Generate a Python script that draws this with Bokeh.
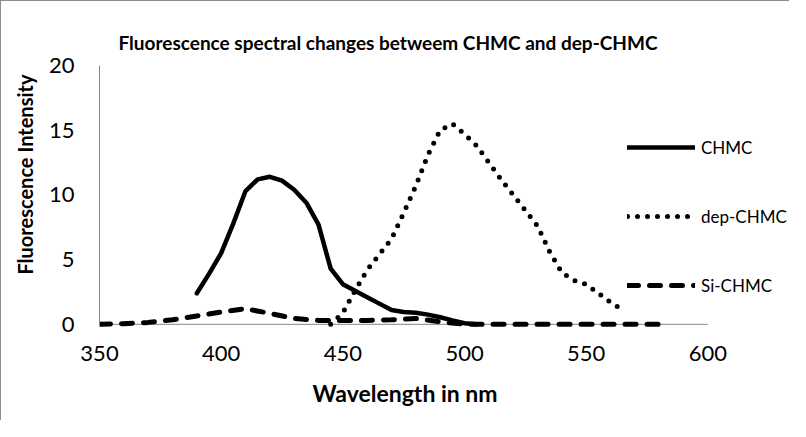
from bokeh.plotting import figure
from bokeh.models import Range1d, Legend, LegendItem, Title
from bokeh.embed import file_html
from bokeh.resources import INLINE

# ---------------- data ----------------
wl_chmc = [390, 395, 400, 405, 410, 415, 420, 425, 430, 435, 440, 445, 450, 455,
           460, 465, 470, 475, 480, 485, 490, 495, 500, 505]
chmc = [2.4, 3.9, 5.5, 7.8, 10.3, 11.2, 11.4, 11.1, 10.4, 9.4, 7.7, 4.3, 3.1, 2.6,
        2.1, 1.6, 1.1, 0.95, 0.9, 0.75, 0.55, 0.3, 0.08, 0.0]

wl_dep = [445, 450, 455, 460, 465, 470, 475, 480, 485, 490, 495, 500, 505, 510,
          515, 520, 525, 530, 535, 540, 545, 550, 555, 560, 565]
dep = [0.0, 0.9, 2.6, 4.2, 5.4, 6.6, 8.6, 10.7, 13.1, 15.0, 15.5, 14.7, 13.8, 12.5,
       11.2, 10.0, 8.8, 7.6, 5.6, 4.0, 3.4, 3.1, 2.4, 1.7, 1.1]

wl_si = [350, 360, 370, 380, 390, 400, 410, 420, 430, 440, 450, 460, 470, 480,
         490, 500, 510, 520, 530, 540, 550, 560, 570, 580]
si = [0.0, 0.05, 0.15, 0.35, 0.65, 0.95, 1.2, 0.85, 0.45, 0.3, 0.3, 0.3, 0.35, 0.45,
      0.2, 0.0, 0.0, 0.0, 0.0, 0.0, 0.0, 0.0, 0.0, 0.0]

x_ticks = [350, 400, 450, 500, 550, 600]
y_ticks = [0, 5, 10, 15, 20]

title_text = "Fluorescence spectral changes betweem CHMC and dep-CHMC"
x_label = "Wavelength in nm"
y_label = "Fluorescence Intensity"

FONT = "Lato"
AXIS_GREY = "#868686"

# ---------------- figure ----------------
# 350..600 spans 611 px; the frame continues to the right to hold the legend
x_end = 350 + 694 * 250 / 611
p = figure(width=789, height=420, output_backend="svg", toolbar_location=None,
           x_range=Range1d(350, x_end), y_range=Range1d(-0.4, 20),
           min_border_left=95, min_border_right=0, min_border_top=64,
           min_border_bottom=92)
p.styles = {"border-top": "1px solid #8c8c8c", "border-left": "1px solid #8c8c8c"}
p.outline_line_color = None
p.grid.visible = False
p.background_fill_color = "white"
p.border_fill_color = "white"

p.title.text = title_text
p.title.align = "left"
p.title.offset = 19
p.title.text_font = FONT
p.title.text_font_style = "bold"
p.title.text_font_size = "19px"
p.title.text_color = "black"
p.title.standoff = 24

for ax in (p.xaxis[0], p.yaxis[0]):
    ax.major_tick_line_color = None
    ax.minor_tick_line_color = None
    ax.major_label_text_font = FONT
    ax.major_label_text_font_size = "22px"
    ax.major_label_text_color = "black"

p.xaxis.ticker = x_ticks
p.yaxis.ticker = y_ticks
p.xaxis.axis_line_color = None
p.yaxis.axis_line_color = AXIS_GREY
p.yaxis.bounds = (y_ticks[0], y_ticks[-1])
p.xaxis.major_label_standoff = 10
p.yaxis.major_label_standoff = 19

# horizontal axis line at y = 0, spanning the tick range
p.line([x_ticks[0], x_ticks[-1]], [y_ticks[0], y_ticks[0]],
       line_color=AXIS_GREY, line_width=1)

# axis titles as panel titles (positioned like the original)
p.add_layout(Title(text=x_label, align="left", offset=213, standoff=27,
                   text_font=FONT, text_font_style="bold",
                   text_font_size="23px", text_color="black"), "below")
p.add_layout(Title(text=y_label, align="right", offset=9, standoff=18,
                   text_font=FONT, text_font_style="bold",
                   text_font_size="20px", text_color="black"), "left")

r1 = p.line(wl_chmc, chmc, line_color="black", line_width=4.5,
            line_join="round", line_cap="round")
r2 = p.line(wl_dep, dep, line_color="black", line_width=5, line_dash="0 10",
            line_join="round", line_cap="round")
r3 = p.line(wl_si, si, line_color="black", line_width=5, line_dash="11 11",
            line_join="round", line_cap="round")

legend = Legend(items=[LegendItem(label="CHMC", renderers=[r1]),
                       LegendItem(label="dep-CHMC", renderers=[r2]),
                       LegendItem(label="Si-CHMC", renderers=[r3])],
                location=(528, 33))
legend.glyph_width = 68
legend.glyph_height = 22
legend.label_height = 22
legend.spacing = 47
legend.padding = 0
legend.margin = 0
legend.label_standoff = 6
legend.label_text_font = FONT
legend.label_text_font_size = "17px"
legend.label_text_color = "black"
legend.border_line_color = None
legend.background_fill_alpha = 0
p.add_layout(legend)

open("out.html", "w").write(file_html(p, INLINE))
